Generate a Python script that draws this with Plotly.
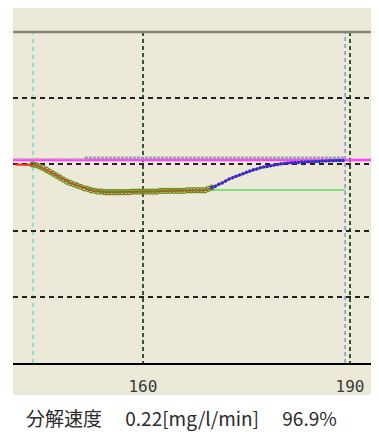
import plotly.graph_objects as go

# ---- data ----
time_meas = [141.5, 142, 142.5, 143, 143.5, 144, 144.5, 145, 145.5, 146, 146.5, 147, 147.5,
             148, 148.5, 149, 149.5, 150, 150.5, 151, 151.5, 152, 152.5, 153, 153.5, 154,
             154.5, 155, 155.5, 156, 156.5, 157, 157.5, 158, 158.5, 159, 159.5, 160, 160.5,
             161, 161.5, 162, 162.5, 163, 163.5, 164, 164.5, 165, 165.5, 166, 166.5, 167,
             167.5, 168, 168.5, 169, 169.5, 170]
val_meas = [3.00, 3.00, 3.00, 3.00, 3.00, 3.00, 2.99, 2.97, 2.95, 2.92, 2.89, 2.86, 2.83,
            2.80, 2.77, 2.74, 2.72, 2.70, 2.68, 2.66, 2.64, 2.63, 2.61, 2.60, 2.59, 2.59,
            2.58, 2.58, 2.58, 2.58, 2.58, 2.58, 2.58, 2.58, 2.59, 2.59, 2.59, 2.59, 2.59,
            2.59, 2.59, 2.59, 2.60, 2.60, 2.60, 2.60, 2.60, 2.60, 2.60, 2.60, 2.61, 2.61,
            2.61, 2.61, 2.61, 2.61, 2.63, 2.65]
time_rise = [170, 170.5, 171, 171.5, 172, 172.5, 173, 173.5, 174, 174.5, 175, 175.5, 176,
             176.5, 177, 177.5, 178, 178.5, 179, 179.5, 180, 180.5, 181, 181.5, 182, 182.5,
             183, 183.5, 184, 184.5, 185, 185.5, 186, 186.5, 187, 187.5, 188, 188.5, 189]
val_rise = [2.65, 2.67, 2.70, 2.72, 2.75, 2.78, 2.80, 2.82, 2.84, 2.86, 2.88, 2.90, 2.92,
            2.93, 2.95, 2.96, 2.97, 2.98, 2.99, 3.00, 3.01, 3.015, 3.02, 3.025, 3.03, 3.03,
            3.035, 3.035, 3.04, 3.04, 3.045, 3.045, 3.05, 3.05, 3.055, 3.055, 3.06, 3.06, 3.06]
fit_time = [144.1, 146, 148, 150, 152, 154, 189.3]
fit_val = [3.00, 2.90, 2.78, 2.70, 2.64, 2.615, 2.613]
setpoint_time = [141, 195]
setpoint_val = [3.066, 3.066]
ref_time = [151.6, 189.3]
ref_val = [3.095, 3.095]
ref_left_time = [141, 151.6]
ref_left_val = [3.08, 3.08]
start_marker = 144.1
end_marker = 189.3
tick_vals = [160, 190]
tick_text = ["160", "190"]
caption = "分解速度\u2003 0.22[mg/l/min]\u2003 96.9%"

BG = "#ECE9D8"
PLOT_H = 331

fig = go.Figure()
fig.add_trace(go.Scatter(x=setpoint_time, y=setpoint_val, mode="lines",
                         line=dict(color="#ff40ff", width=2.5), hoverinfo="skip"))
fig.add_trace(go.Scatter(x=ref_left_time, y=ref_left_val, mode="lines",
                         line=dict(color="#d890c8", width=2, dash="3px,2px"), hoverinfo="skip"))
fig.add_trace(go.Scatter(x=ref_time, y=ref_val, mode="lines",
                         line=dict(color="#a494b4", width=3, dash="3px,1px"), hoverinfo="skip"))
fig.add_trace(go.Scatter(x=fit_time, y=fit_val, mode="lines",
                         line=dict(color="#80e080", width=2), hoverinfo="skip"))
fig.add_trace(go.Scatter(x=time_meas + time_rise[1:], y=val_meas + val_rise[1:], mode="lines",
                         line=dict(color="#ff2020", width=2), hoverinfo="skip"))
fig.add_trace(go.Scatter(x=time_meas[5:], y=val_meas[5:], mode="markers",
                         marker=dict(symbol="circle-open", size=5, color="#6f8a20",
                                     line=dict(width=1.2)), hoverinfo="skip"))
fig.add_trace(go.Scatter(x=time_rise, y=val_rise, mode="markers",
                         marker=dict(symbol="circle", size=3.5, color="#2830d8"), hoverinfo="skip"))

# vertical marker lines
fig.add_shape(type="line", x0=start_marker, x1=start_marker, y0=0, y1=1, xref="x", yref="paper",
              line=dict(color="#70dada", width=1.5, dash="4px,4px"), layer="below")
fig.add_shape(type="line", x0=end_marker, x1=end_marker, y0=0, y1=1, xref="x", yref="paper",
              line=dict(color="#8c8ce0", width=1.5, dash="4px,3px"), layer="below")
# top band and bottom label band
fig.add_shape(type="rect", xref="paper", yref="paper", x0=0, x1=1, y0=1, y1=1 + 32 / PLOT_H,
              fillcolor=BG, line=dict(width=0), layer="below")
fig.add_shape(type="rect", xref="paper", yref="paper", x0=0, x1=1, y0=-32 / PLOT_H, y1=0,
              fillcolor=BG, line=dict(width=0), layer="below")
fig.add_shape(type="line", xref="paper", yref="paper", x0=0, x1=1, y0=1, y1=1,
              line=dict(color="#86836f", width=2.5))

fig.add_annotation(text=caption, xref="paper", yref="paper", x=0.46, y=-54 / PLOT_H,
                   showarrow=False, xanchor="center", yanchor="middle",
                   font=dict(family="Noto Sans CJK JP", size=19, color="#2a2a2a"))

# page body adds an 8px margin, so the figure is sized/placed to compensate
fig.update_layout(
    width=371, height=428,
    margin=dict(l=5, r=0, t=24, b=73),
    paper_bgcolor="white", plot_bgcolor=BG,
    showlegend=False,
    xaxis=dict(range=[141.2, 194.2], tickvals=tick_vals, ticktext=tick_text,
               showgrid=True, gridcolor="#2f5a2f", gridwidth=2, griddash="4px,3px",
               zeroline=False, showline=True, linecolor="black", linewidth=1.5,
               ticks="", ticklabelstandoff=8,
               tickfont=dict(family="DejaVu Sans Mono", size=16, color="#3a3a3a")),
    yaxis=dict(range=[0, 5], tickvals=[1, 2, 3, 4], showticklabels=False,
               showgrid=True, gridcolor="#222222", gridwidth=1.5, griddash="5px,4px",
               zeroline=False, showline=False, ticks=""),
)

fig.write_html("out.html")
